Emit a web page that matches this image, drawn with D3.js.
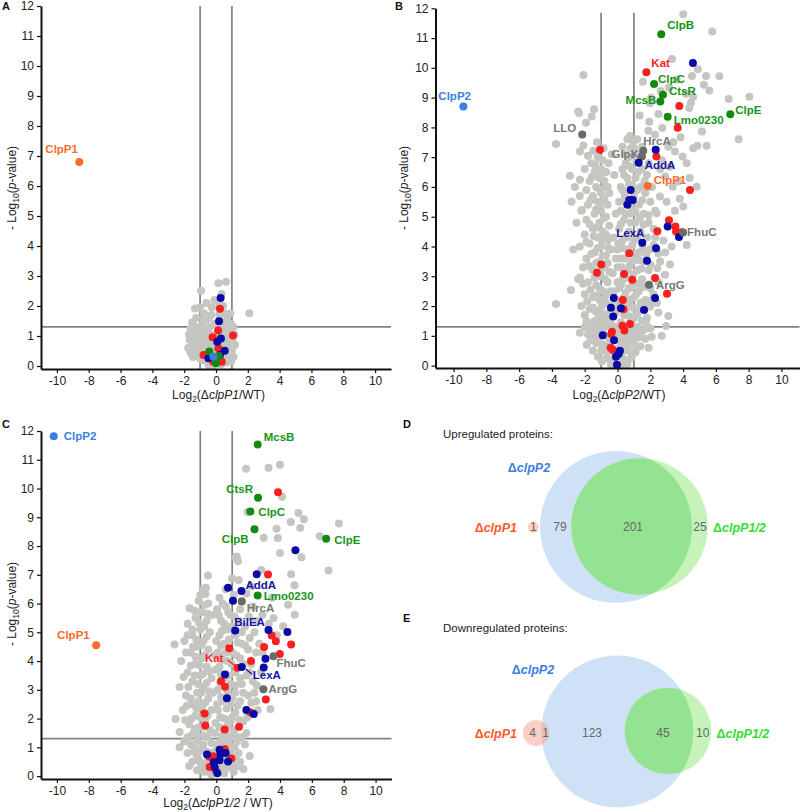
<!DOCTYPE html>
<html><head><meta charset="utf-8">
<script src="https://cdn.jsdelivr.net/npm/d3@7"></script>
<style>body{margin:0;background:#fff} svg{display:block;font-family:Arial,"Liberation Sans",sans-serif}</style>
</head><body><svg id="c" width="801" height="812"></svg>
<script>
// ---------- shared ----------
const xTicks = [-10,-8,-6,-4,-2,0,2,4,6,8,10];
const yTicks = [0,1,2,3,4,5,6,7,8,9,10,11,12];
const foldCut = 1;
const pCut = 1.30103;

// ---------- Panel A: ΔclpP1 / WT ----------
const grayA = [[-0.94,2.51],[0.15,2.76],[0.63,2.81],[-1.32,1.92],[2.09,1.76],[-1.0,1.95],[-0.75,1.75],[-1.25,1.6],[-1.5,1.45],[0.55,1.75],[0.7,1.55],[-0.6,1.55],[0.95,1.4],[1.1,1.3],[-1.6,1.25],[-1.2,1.3],[-0.85,1.35],[-0.4,1.3],[0.5,1.3],[0.8,1.2],[-1.7,1.05],[-1.35,1.05],[-1.05,1.1],[-0.7,1.1],[-0.35,1.05],[0.45,1.05],[0.75,1.0],[1.05,0.85],[-1.65,0.87],[-1.4,0.8],[-1.1,0.85],[-0.8,0.85],[-0.5,0.8],[0.6,0.8],[0.9,0.75],[-1.3,0.6],[-1.0,0.6],[-0.7,0.62],[-0.4,0.6],[0.4,0.6],[0.75,0.55],[1.0,0.5],[-1.2,0.4],[-0.95,0.38],[-0.6,0.4],[0.55,0.35],[0.85,0.3],[-0.85,0.2],[-0.55,0.15],[-0.3,0.1],[0.3,0.05],[0.6,0.12],[0.95,0.15],[-0.15,0.02],[0.1,0.3],[-0.2,0.7],[0.1,0.95],[-0.1,1.4],[0.3,1.5],[-0.3,1.7],[0.2,2.0],[-0.1,2.2],[0.35,2.4],[-0.6,2.1],[0.9,1.75],[-1.45,0.3],[1.15,1.05]];
const grayA2 = [[-1.5,1.15],[-0.9,1.2],[-0.55,1.2],[0.65,1.15],[0.95,1.15],[-1.25,0.95],[-0.9,1.0],[-0.55,0.95],[0.6,0.95],[0.85,0.9],[-1.5,0.7],[-1.15,0.7],[-0.85,0.7],[0.55,0.7],[0.85,0.6],[-1.1,0.5],[-0.8,0.5],[0.45,0.45],[0.75,0.4],[-1.0,0.25],[-0.65,0.3],[0.65,0.25],[1.1,0.3],[-0.45,0.0],[0.45,0.2],[-0.35,0.3],[-0.05,0.5],[0.3,0.8],[-0.45,1.6],[0.2,1.7],[0.45,2.0],[-0.25,1.95],[-0.8,1.55],[1.2,0.7],[-1.75,0.6],[-1.6,0.45]];
const redA = [[0.25,1.91],[0.13,1.18],[1.07,1.02],[-0.21,0.96],[0.15,0.59],[-0.79,0.37],[0.36,0.14],[-0.17,0.14]];
const blueA = [[0.29,2.27],[0.19,1.49],[0.31,0.92],[0.08,0.81],[0.55,0.51],[-0.48,0.26],[0.25,0.37]];
const greenA = [[-0.42,0.48],[0.0,0.09],[0.17,0.33]];
const labeledA = [["ClpP2",-0.17,0.32,"p2",false],["ClpP1",-8.59,6.8,"p1",true]];

// ---------- Panel B: ΔclpP2 / WT ----------
const grayB = [[4.01,11.8],[5.78,11.22],[3.32,10.3],[5.4,9.73],[4.54,9.73],[6.21,9.72],[1.55,9.53],[-2.08,9.76],[3.14,9.34],[5.27,9.43],[5.6,9.24],[4.18,9.13],[2.63,9.22],[4.62,9.03],[8.04,9.03],[6.78,8.95],[4.48,8.83],[1.98,8.81],[4.38,8.65],[-2.39,8.53],[-1.43,8.61],[-1.57,8.37],[-1.92,8.16],[1.94,8.19],[2.73,7.98],[1.88,7.89],[2.29,7.75],[3.85,7.67],[5.15,7.86],[7.39,7.6],[5.44,7.38],[4.87,7.38],[4.62,7.3],[-2.08,7.39],[-1.48,7.22],[0.76,7.71],[0.96,7.52],[3.1,7.35],[3.51,7.19],[3.97,7.02],[4.22,6.8],[-2.9,6.38],[-2.29,6.24],[3.2,6.68],[2.9,6.35],[3.71,6.18],[-3.75,7.44],[-2.35,8.48],[-2.29,7.19],[3.6,9.6],[2.05,9.0],[4.9,9.95],[1.35,8.4],[2.5,8.45],[3.4,7.5],
[-1.2,7.0],[-0.9,6.9],[-1.6,6.8],[-1.0,6.6],[-0.7,6.5],[-1.4,6.5],[-2.0,6.6],[-1.1,6.3],[-0.8,6.2],[-1.7,6.2],[-2.6,6.0],[-1.3,6.0],[-0.6,6.0],[-1.9,5.9],[-1.0,5.8],[-2.3,5.7],[-1.5,5.7],[-0.8,5.6],[-2.8,5.5],[-1.2,5.5],[-1.8,5.4],[-0.6,5.4],[-1.0,5.2],[-2.2,5.2],[-1.4,5.1],[-0.7,5.0],[-1.9,4.9],[-1.1,4.8],[-2.5,4.8],[-0.5,4.7],[-1.5,4.6],[-0.9,4.5],[-2.0,4.4],[-1.2,4.3],[-0.6,4.2],[-1.7,4.1],[-2.3,4.0],[-1.0,4.0],[-1.4,3.8],[-0.7,3.7],[-1.9,3.6],[-1.1,3.5],[-2.1,3.3],[-0.8,3.3],[-1.5,3.2],[-1.0,3.0],[-2.4,2.9],[-1.8,2.8],[-0.6,2.8],[-1.3,2.7],[-0.9,2.5],[-2.0,2.4],[-1.5,2.3],[-1.1,2.2],[-0.7,2.1],[-2.2,2.0],[-1.7,1.9],[-1.3,1.8],[-0.9,1.7],[-0.5,1.6],[-1.9,1.5],[-1.4,1.5],[-2.84,2.54],[-2.29,2.96],[-2.18,5.23],[-2.7,3.9],[-0.4,3.9],[-0.5,5.8],[-0.55,6.8],[-1.8,7.05],[-1.25,7.5],[-0.85,7.3],
[0.6,7.6],[1.0,7.3],[0.7,7.0],[1.3,7.1],[0.5,6.8],[0.9,6.6],[1.5,6.6],[0.4,6.4],[1.1,6.3],[1.8,6.4],[0.7,6.1],[1.4,6.0],[0.3,5.9],[1.0,5.7],[1.7,5.8],[0.5,5.5],[1.3,5.4],[2.0,5.5],[0.2,5.2],[0.8,5.1],[1.6,5.1],[0.4,4.9],[1.1,4.8],[1.9,4.8],[0.1,4.6],[0.7,4.5],[1.4,4.5],[2.2,4.6],[0.3,4.2],[1.0,4.2],[1.8,4.3],[0.0,3.9],[0.6,3.9],[1.3,3.8],[2.0,3.9],[0.2,3.6],[0.9,3.5],[1.6,3.5],[0.0,3.3],[0.6,3.2],[1.2,3.2],[1.9,3.2],[0.3,2.9],[0.9,2.9],[1.5,2.9],[0.1,2.6],[0.7,2.6],[1.3,2.5],[2.0,2.6],[0.4,2.3],[1.0,2.3],[1.7,2.2],[0.1,2.0],[0.7,2.0],[1.3,1.9],[0.4,1.7],[1.0,1.6],[1.8,1.6],[0.2,1.45],[0.8,1.45],[1.5,1.5],[-0.2,2.5],[-0.3,3.1],[-0.1,1.8],[-0.25,4.3],[2.3,5.2],[2.1,6.0],[1.2,7.6],
[2.49,3.77],[2.9,3.8],[2.43,3.27],[2.39,5.12],[4.01,5.34],[4.83,6.01],[3.37,6.01],[2.59,5.68],[4.22,4.05],[3.1,1.67],[2.96,1.33],[2.49,1.78],[1.98,1.98],[2.9,3.05],[2.09,0.97],[2.7,1.0],[2.6,6.6],[3.0,5.5],[3.5,5.2],[2.8,4.2],[3.3,4.0],[2.5,2.8],[2.2,2.4],[3.2,3.4],[2.7,6.9],[4.4,6.3],[3.8,5.6],[2.3,4.3],[2.6,3.5],[2.4,2.1],[-3.75,2.07],
[-2.0,1.3],[-1.6,1.2],[-1.2,1.25],[-0.8,1.3],[-0.3,1.2],[0.3,1.25],[0.7,1.2],[1.2,1.3],[1.6,1.2],[-1.88,0.7],[-1.5,1.0],[-1.1,1.0],[-0.6,0.95],[0.1,1.0],[0.5,0.95],[0.9,1.0],[1.3,0.95],[1.7,0.9],[-1.3,0.75],[-0.9,0.7],[-0.5,0.7],[0.2,0.75],[0.6,0.7],[1.0,0.75],[1.4,0.65],[-1.0,0.5],[-0.6,0.45],[0.3,0.45],[0.7,0.5],[1.1,0.45],[-0.7,0.25],[-0.3,0.2],[0.4,0.2],[0.8,0.25],[-0.4,0.05],[0.2,0.0],[0.6,0.05],[-1.5,0.5],[-1.8,1.05],[2.0,1.25],[1.9,0.6]];
const grayB2 = [[-1.35,6.75],[-0.95,6.45],[-1.55,6.35],[-0.75,6.0],[-1.15,5.95],[-1.65,5.55],[-0.95,5.45],[-1.3,5.25],[-0.85,4.95],[-1.7,4.75],[-1.25,4.65],[-0.7,4.4],[-1.45,4.35],[-0.95,4.2],[-1.9,4.15],[-1.2,3.95],[-0.55,3.95],[-1.6,3.75],[-0.9,3.7],[-1.3,3.45],[-0.6,3.45],[-1.75,3.35],[-1.05,3.2],[-0.5,3.15],[-1.4,2.95],[-0.75,2.9],[-2.1,2.75],[-1.1,2.6],[-0.45,2.5],[-1.65,2.55],[-1.3,2.35],[-0.75,2.35],[-1.85,2.15],[-0.95,2.0],[-0.4,2.0],[-1.5,1.95],[-1.1,1.85],[-0.65,1.75],[-2.0,1.7],[-1.2,1.55],[-0.75,1.5],[-1.65,1.35],[-0.4,1.4],[-1.05,1.4],[-2.3,1.1],[-1.35,1.1],[-0.85,1.05],[-0.2,1.0],[-1.65,0.85],[-1.15,0.85],[-0.35,0.85],[-0.75,0.55],[-1.2,0.3],[-0.95,0.15],
[0.8,7.3],[0.45,7.1],[1.15,6.85],[0.7,6.7],[0.3,6.6],[1.25,6.5],[0.6,6.3],[0.9,6.05],[0.2,6.0],[1.2,5.9],[0.45,5.7],[0.8,5.35],[1.5,5.55],[0.1,5.5],[1.1,5.15],[0.5,5.1],[1.35,4.95],[0.8,4.8],[0.2,4.75],[1.6,4.75],[0.55,4.3],[1.2,4.3],[0.9,4.05],[0.3,3.95],[1.55,3.95],[1.05,3.75],[0.45,3.6],[1.3,3.55],[0.75,3.35],[0.25,3.3],[1.45,3.25],[0.95,3.05],[0.5,2.95],[1.2,2.75],[0.25,2.75],[0.85,2.65],[1.6,2.65],[0.5,2.45],[1.15,2.4],[0.75,2.2],[0.3,2.15],[1.4,2.1],[0.95,1.95],[0.5,1.85],[1.2,1.7],[0.75,1.65],[0.15,1.2],[0.5,1.1],[1.0,1.15],[0.35,0.85],[0.75,0.85],[1.15,0.6],[0.5,0.55],[0.9,0.35],[0.2,0.3],[0.0,0.55],[-0.15,0.35],[1.4,1.1],[1.75,1.4],[1.8,2.0],[2.0,3.4],[2.1,2.2],[1.75,3.75],[2.2,4.05],[1.9,5.05],[1.65,6.2],[1.9,6.8],[1.5,7.35],[0.3,7.35],[-0.35,7.1],[-0.2,6.4],[-0.1,5.1],[0.05,4.1],[-0.1,3.6],[0.0,2.8],[-0.05,2.2],[-0.1,1.3],[0.1,0.85]];
const redB = [[3.77,8.72],[3.67,7.99],[-1.07,7.25],[2.37,7.02],[4.42,5.9],[3.14,4.88],[3.53,4.67],[3.57,4.5],[3.91,4.48],[2.43,4.51],[0.72,3.77],[-0.99,3.4],[-1.25,3.12],[0.4,3.08],[0.9,2.88],[2.29,2.94],[3.02,2.41],[0.32,2.2],[0.36,1.89],[0.3,1.34],[0.76,1.4],[0.42,1.18],[-0.34,1.14],[-0.38,1.06],[-0.42,0.6],[-0.3,0.53]];
const blueB = [[4.6,10.16],[2.33,7.25],[0.8,5.9],[0.72,5.56],[0.93,5.56],[0.6,5.4],[3.06,4.67],[3.75,4.32],[2.35,3.94],[1.8,3.52],[2.29,2.27],[-0.23,2.27],[-0.4,1.94],[0.21,1.93],[1.62,1.87],[-0.26,1.65],[-0.9,1.02],[-0.21,0.85],[0.15,0.5],[0.07,0.39],[-0.09,0.3],[-0.03,0.03]];
const greenB = [];
const labeledB = [["ClpB",2.67,11.13,"green",true],["Kat",1.76,9.85,"red",true],["ClpC",2.23,9.46,"green",true],["CtsR",2.77,9.1,"green",true],["McsB",2.61,8.87,"green",true],["Lmo0230",3.06,8.36,"green",true],["ClpE",6.88,8.44,"green",true],["LLO",-2.15,7.76,"dark",true],["HrcA",1.57,7.22,"dark",true],["GlpK",1.49,7.02,"dark",true],["AddA",1.29,6.81,"blue",true],["ClpP1",1.84,6.03,"p1",true],["ClpP2",-9.4,8.7,"p2",true],["LexA",1.51,4.13,"blue",true],["FhuC",4.0,4.47,"dark",true],["ArgG",1.92,2.72,"dark",true]];

// ---------- Panel C: ΔclpP1/2 / WT ----------
const grayC = [[1.87,10.69],[3.28,10.72],[4.0,10.83],[4.13,9.71],[1.96,9.18],[5.16,9.15],[5.5,8.93],[4.68,8.84],[7.7,8.78],[5.27,8.63],[3.78,8.6],[2.98,8.29],[3.86,8.28],[6.5,8.34],[5.35,7.61],[4.0,7.76],[1.2,7.6],[1.37,7.47],[1.28,7.64],[7.05,7.15],[2.83,7.17],[4.7,7.02],[-0.52,6.98],[0.99,6.87],[1.41,6.82],[4.91,6.64],[-0.67,6.33],[2.2,6.6],[3.5,6.2],[1.9,6.35],
[-0.8,6.5],[-1.1,6.1],[-0.5,6.0],[-1.67,5.84],[-0.9,5.7],[-1.3,5.5],[-0.6,5.4],[-1.8,5.3],[-1.0,5.1],[-0.4,5.0],[-1.5,4.9],[-0.8,4.7],[-2.0,4.7],[-1.2,4.5],[-0.5,4.4],[-2.62,4.58],[-1.6,4.3],[-0.9,4.1],[-2.2,4.0],[-1.3,3.9],[-0.6,3.8],[-1.8,3.6],[-1.0,3.5],[-0.3,3.4],[-1.5,3.3],[-2.3,3.1],[-0.8,3.1],[-1.2,2.9],[-1.9,2.8],[-0.5,2.7],[-1.5,2.5],[-0.9,2.4],[-2.1,2.3],[-0.3,2.3],[-1.3,2.1],[-2.55,1.99],[-0.7,1.9],[-1.7,1.8],[-1.1,1.7],[-0.4,1.6],[-2.3,1.53],[-1.5,1.45],[-0.8,1.4],[-0.1,1.5],[-0.2,2.9],[-0.1,4.2],[-0.25,5.6],
[0.2,6.2],[0.6,5.9],[0.9,5.6],[0.3,5.4],[1.4,5.4],[0.7,5.1],[1.8,5.2],[0.2,4.9],[1.2,4.9],[2.1,4.8],[0.5,4.6],[1.6,4.6],[0.1,4.3],[1.0,4.3],[2.0,4.4],[0.7,4.0],[1.5,4.1],[2.5,4.3],[0.2,3.8],[1.2,3.6],[1.9,3.5],[0.5,3.4],[0.9,3.2],[1.6,3.2],[2.3,3.3],[0.1,3.0],[1.2,2.9],[2.0,2.8],[0.4,2.6],[0.9,2.5],[1.5,2.6],[0.1,2.3],[1.2,2.2],[2.6,2.3],[0.5,2.0],[1.7,1.9],[0.2,1.7],[0.9,1.9],[1.9,1.5],[0.6,1.5],[1.2,1.4],[2.4,2.9],[2.8,3.6],[3.4,2.33],[2.5,5.4],[2.9,5.6],[3.6,5.5],[4.51,5.96],[4.93,5.61],[4.2,5.21],[3.8,4.9],[2.3,5.9],[1.5,5.8],[1.1,6.3],[2.7,4.6],
[-2.0,1.2],[-1.6,1.1],[-1.2,1.2],[-0.8,1.1],[-0.3,1.15],[0.3,1.2],[0.8,1.1],[1.3,1.2],[1.8,1.1],[-1.8,0.8],[-1.4,0.85],[-1.0,0.9],[-0.6,0.85],[0.0,0.9],[0.9,0.85],[1.4,0.8],[-1.5,0.5],[-1.1,0.55],[-0.7,0.45],[0.4,0.35],[1.0,0.4],[1.5,0.5],[-1.2,0.2],[-0.8,0.15],[-0.3,0.05],[0.5,0.1],[1.1,0.15],[-1.7,0.35],[2.1,0.7],[1.7,0.25]];
const grayC2 = [[-0.65,6.55],[-1.0,6.3],[-0.75,5.95],[-1.35,5.75],[-0.55,5.65],[-1.1,5.35],[-0.75,5.2],[-1.5,5.1],[-0.6,4.85],[-1.25,4.75],[-1.8,4.9],[-0.95,4.55],[-1.45,4.5],[-0.7,4.2],[-1.3,4.15],[-1.9,4.3],[-1.05,3.85],[-1.6,3.85],[-0.45,3.65],[-0.85,3.55],[-1.35,3.5],[-2.05,3.45],[-0.6,3.25],[-1.15,3.2],[-1.75,3.1],[-0.95,2.9],[-0.45,2.95],[-1.6,2.7],[-1.1,2.6],[-0.7,2.55],[-1.85,2.45],[-1.25,2.35],[-0.55,2.1],[-1.0,2.05],[-1.55,2.0],[-1.95,1.95],[-0.85,1.7],[-1.35,1.65],[-0.55,1.35],[-1.2,1.4],[-1.8,1.35],[-2.3,1.0],[-1.4,1.0],[-0.85,0.9],[-0.35,0.8],[-1.2,0.7],[-0.5,0.55],[-0.95,0.35],[-0.55,0.15],[-0.2,0.45],
[0.4,6.0],[0.75,5.7],[0.15,5.6],[1.15,5.55],[0.5,5.3],[0.95,5.2],[1.6,5.0],[0.35,5.05],[0.8,4.75],[1.35,4.65],[0.3,4.55],[1.8,4.55],[0.6,4.3],[1.25,4.2],[0.4,4.05],[1.7,3.9],[0.95,3.9],[0.3,3.55],[0.8,3.5],[1.5,3.4],[2.1,3.6],[0.25,3.25],[1.2,3.15],[0.7,2.95],[1.7,2.9],[0.3,2.75],[1.0,2.7],[1.35,2.45],[0.65,2.35],[0.25,2.05],[1.0,2.05],[1.45,1.95],[0.7,1.75],[1.1,1.6],[0.35,1.4],[0.9,1.35],[1.6,1.35],[0.55,1.2],[1.15,1.0],[0.6,0.75],[1.2,0.65],[0.3,0.6],[0.85,0.3],[0.1,0.2],[1.4,0.35],[-0.05,0.65],[0.1,1.1],[-0.05,1.85],[0.05,2.5],[-0.05,3.7],[0.0,4.7],[0.05,5.8],[0.6,6.5],[1.6,6.1],[2.05,5.55],[2.4,5.0],[2.2,3.9],[2.55,3.15],[2.2,2.55],[1.95,2.05],[2.5,2.6],[2.9,4.3],[3.3,5.3]];
const redC = [[3.88,9.87],[3.25,7.01],[3.48,4.89],[3.74,4.69],[4.7,4.58],[3.0,4.49],[0.82,4.45],[3.99,4.25],[2.18,4.0],[0.3,3.3],[0.55,3.11],[3.11,2.66],[2.14,2.22],[-0.73,2.18],[-0.69,1.76],[0.53,1.62],[1.43,1.72],[0.53,0.94],[-0.42,0.67],[-0.2,0.69],[-0.42,0.32],[-0.04,0.21],[0.95,0.61]];
const blueC = [[4.97,7.85],[2.54,7.02],[0.74,6.55],[1.05,6.1],[3.28,5.08],[4.47,5.01],[3.09,4.08],[2.98,3.78],[0.55,3.53],[0.67,2.71],[1.89,2.3],[2.35,2.16],[0.21,0.92],[0.59,0.8],[0.26,0.76],[-0.58,0.75],[-0.16,0.48],[0.21,0.55],[0.74,0.51],[-0.1,0.32],[0.07,0.1]];
const greenC = [];
const labeledC = [["McsB",2.6,11.53,"green",true],["CtsR",2.62,9.68,"green",true],["ClpC",2.14,9.2,"green",true],["ClpB",2.4,8.58,"green",true],["ClpE",6.9,8.25,"green",true],["AddA",1.58,6.44,"blue",true],["Lmo0230",2.6,6.28,"green",true],["HrcA",1.6,6.07,"dark",true],["BilEA",1.19,5.06,"blue",true],["FhuC",3.59,4.17,"dark",true],["Kat",1.33,3.77,"red",true],["LexA",1.6,3.79,"blue",true],["ArgG",2.96,3.02,"dark",true],["ClpP1",-7.54,4.55,"p1",true],["ClpP2",-10.2,11.82,"p2",true]];

// ---------- Venn data ----------
const vennSetNames = ["ΔclpP1","ΔclpP2","ΔclpP1/2"];
const upSetSizes = [1, 280, 226];
const upRegionCounts = [1, 79, 201, 25];      // P1 only, P2 only, P2∩P1/2, P1/2 only
const downSetSizes = [5, 169, 55];
const downRegionCounts = [4, 1, 123, 45, 10]; // P1 only, P1∩P2, P2 only, P2∩P1/2, P1/2 only

// ---------- styles ----------
const pointColor = {gray:"#c5c5c1", red:"#fb1f1f", blue:"#0a0aa6", green:"#108a10", dark:"#666d66", p1:"#ff6a2a", p2:"#3c80df"};
const labelColor = {red:"#ff2020", blue:"#1515a0", green:"#169616", dark:"#767a76", p1:"#ff6a2a", p2:"#3c80df"};

const svg = d3.select("#c");

function drawVolcano(cfg){
  const g = svg.append("g");
  const x = d3.scaleLinear().domain(cfg.xd).range(cfg.xr);
  const y = d3.scaleLinear().domain(cfg.yd).range(cfg.yr);
  const lc = "#7b867b";
  [-foldCut, foldCut].forEach(v=>{
    g.append("line").attr("x1",x(v)).attr("x2",x(v)).attr("y1",y(cfg.vTop)).attr("y2",y(cfg.yd[0]))
     .attr("stroke",lc).attr("stroke-width",1.7);
  });
  g.append("line").attr("x1",x(cfg.xd[0])).attr("x2",x(cfg.xd[1])).attr("y1",y(pCut)).attr("y2",y(pCut))
     .attr("stroke",lc).attr("stroke-width",1.7);
  const r = 4;
  const layer = (arr, col) => g.append("g").selectAll("circle").data(arr).join("circle")
      .attr("cx",d=>x(d[0])).attr("cy",d=>y(d[1])).attr("r",r).attr("fill",col);
  layer(cfg.gray, pointColor.gray);
  layer(cfg.red, pointColor.red);
  layer(cfg.blue, pointColor.blue);
  layer(cfg.green, pointColor.green);
  layer(cfg.labeled.map(d=>[d[1],d[2],d[3]]), null).attr("fill",d=>pointColor[d[2]]);
  cfg.labeled.filter(d=>d[4]).forEach(d=>{
    const o = cfg.offsets[d[0]];
    const px = x(d[1]), py = y(d[2]);
    if(o.leader){
      g.append("line").attr("x1",px+o.leader[0]).attr("y1",py+o.leader[1]).attr("x2",px+o.leader[2]).attr("y2",py+o.leader[3])
       .attr("stroke",labelColor[d[3]]).attr("stroke-width",1.3);
    }
    g.append("text").attr("x",px+o.dx).attr("y",py+o.dy).attr("dy","0.36em")
      .attr("text-anchor",o.a||"start").attr("font-size",11.5).attr("font-weight","bold")
      .attr("fill",labelColor[d[3]]).text(d[0]);
  });
  const ax = g.append("g").attr("transform",`translate(0,${y(cfg.yd[0])})`)
    .call(d3.axisBottom(x).tickValues(xTicks).tickSize(4).tickSizeOuter(0).tickPadding(3).tickFormat(d=>String(d)));
  const ay = g.append("g").attr("transform",`translate(${x(cfg.xd[0])},0)`)
    .call(d3.axisLeft(y).tickValues(yTicks).tickSize(4).tickSizeOuter(0).tickPadding(3));
  [ax,ay].forEach(a=>{
    a.select(".domain").attr("stroke","#111").attr("stroke-width",2);
    a.selectAll(".tick line").attr("stroke","#111").attr("stroke-width",1.2);
    a.selectAll(".tick text").attr("font-size",12).attr("fill","#222").attr("font-family","Arial, 'Liberation Sans', sans-serif");
  });
  const xt = g.append("text").attr("x",cfg.xTitle[0]).attr("y",cfg.xTitle[1]).attr("text-anchor","middle")
     .attr("font-size",12).attr("fill","#222");
  xt.append("tspan").text("Log");
  xt.append("tspan").attr("font-size",8.5).attr("dy",3).text("2");
  xt.append("tspan").attr("dy",-3).text("(Δ");
  xt.append("tspan").attr("font-style","italic").text(cfg.strain);
  xt.append("tspan").text(cfg.tail);
  const yt = g.append("text").attr("transform",`translate(${cfg.yTitle[0]},${cfg.yTitle[1]}) rotate(-90)`)
     .attr("text-anchor","middle").attr("font-size",12).attr("fill","#222");
  yt.append("tspan").text("- Log");
  yt.append("tspan").attr("font-size",8.5).attr("dy",3).text("10");
  yt.append("tspan").attr("dy",-3).text("(");
  yt.append("tspan").attr("font-style","italic").text("p");
  yt.append("tspan").text("-value)");
  svg.append("text").attr("x",cfg.letter[1]).attr("y",cfg.letter[2]).attr("font-size",11).attr("font-weight","bold").attr("fill","#111").text(cfg.letter[0]);
}

drawVolcano({
  xd:[-11,11], xr:[41,391], yd:[-0.1,12], yr:[369,6], vTop:12,
  gray:grayA.concat(grayA2), red:redA, blue:blueA, green:greenA, labeled:labeledA,
  offsets:{ClpP1:{dx:-34,dy:-13}},
  strain:"clpP1", tail:"/WT)", xTitle:[218.5,399], yTitle:[16,188], letter:["A",2,10]
});
drawVolcano({
  xd:[-11.1,11.1], xr:[435.5,799.5], yd:[-0.08,12], yr:[368,8.3], vTop:11.85,
  gray:grayB.concat(grayB2), red:redB, blue:blueB, green:greenB, labeled:labeledB,
  offsets:{ClpB:{dx:6,dy:-9},Kat:{dx:5,dy:-9},ClpC:{dx:4,dy:-5},CtsR:{dx:6,dy:-4},McsB:{dx:-4,dy:-2,a:"end"},
    Lmo0230:{dx:6,dy:3},ClpE:{dx:5,dy:-4},LLO:{dx:-6,dy:-7,a:"end"},HrcA:{dx:0,dy:-10},GlpK:{dx:-3,dy:-3,a:"end"},
    AddA:{dx:6,dy:2},ClpP1:{dx:6,dy:-6},ClpP2:{dx:-25,dy:-11},LexA:{dx:-26,dy:-10},FhuC:{dx:4,dy:-1},ArgG:{dx:7,dy:0}},
  strain:"clpP2", tail:"/WT)", xTitle:[619,399], yTitle:[408,188], letter:["B",395,10]
});
drawVolcano({
  xd:[-11,11], xr:[41,391.5], yd:[-0.1,12], yr:[779,431], vTop:12,
  gray:grayC.concat(grayC2), red:redC, blue:blueC, green:greenC, labeled:labeledC,
  offsets:{McsB:{dx:6,dy:-8},CtsR:{dx:-5,dy:-9,a:"end"},ClpC:{dx:8,dy:0},ClpB:{dx:-6,dy:9,a:"end"},ClpE:{dx:8,dy:1},
    AddA:{dx:4,dy:-6},Lmo0230:{dx:6,dy:0},HrcA:{dx:5,dy:6},BilEA:{dx:-1,dy:-9},FhuC:{dx:3,dy:7},
    Kat:{dx:-14,dy:-10,a:"end",leader:[-10,-8,0,0]},LexA:{dx:11,dy:8,leader:[4,2,10,7]},ArgG:{dx:5,dy:0},
    ClpP1:{dx:-39,dy:-10},ClpP2:{dx:10,dy:0}},
  strain:"clpP1/2", tail:" / WT)", xTitle:[218,807], yTitle:[16,604], letter:["C",2,428]
});

// ---------- Venn diagrams ----------
function drawVenn(cfg){
  const g = svg.append("g");
  const rS = d3.scaleSqrt().domain([0, d3.max(cfg.sizes)]).range([0, 76]);
  const [cP1, cP2, cP12] = cfg.centers;
  const rP1 = Math.max(rS(cfg.sizes[0]),5.5), rP2 = rS(cfg.sizes[1]), rP12 = rS(cfg.sizes[2]);
  const id = "clip"+cfg.letter[0];
  g.append("clipPath").attr("id",id).append("circle").attr("cx",cP2[0]).attr("cy",cP2[1]).attr("r",rP2);
  g.append("circle").attr("cx",cP2[0]).attr("cy",cP2[1]).attr("r",rP2).attr("fill","#cfe1f6");
  g.append("circle").attr("cx",cP12[0]).attr("cy",cP12[1]).attr("r",rP12).attr("fill","#c6f3ba");
  g.append("circle").attr("cx",cP12[0]).attr("cy",cP12[1]).attr("r",rP12).attr("fill","#93e393").attr("clip-path",`url(#${id})`);
  g.append("circle").attr("cx",cP1[0]).attr("cy",cP1[1]).attr("r",rP1).attr("fill","#f4a898").attr("fill-opacity",0.55);
  g.selectAll("text.n").data(cfg.counts).join("text").attr("class","n")
    .attr("x",(d,i)=>cfg.countX[i]).attr("y",cfg.countY).attr("dy","0.36em").attr("text-anchor","middle")
    .attr("font-size",12).attr("fill","#666").text(d=>d);
  const nameCols = ["#ff5a2a","#3c7fdf","#33dd33"];
  vennSetNames.forEach((nm,i)=>{
    const p = cfg.namePos[i];
    const t = g.append("text").attr("x",p[0]).attr("y",p[1]).attr("dy","0.36em").attr("text-anchor",p[2])
      .attr("font-size",12.5).attr("font-weight","bold").attr("font-style","italic").attr("fill",nameCols[i]);
    t.append("tspan").attr("font-style","normal").text("Δ");
    t.append("tspan").text(nm.slice(1));
  });
  g.append("text").attr("x",443).attr("y",cfg.titleY).attr("dy","0.36em").attr("font-size",11.5).attr("fill","#222").text(cfg.title);
  svg.append("text").attr("x",cfg.letter[1]).attr("y",cfg.letter[2]).attr("font-size",11).attr("font-weight","bold").attr("fill","#111").text(cfg.letter[0]);
}
drawVenn({
  sizes:upSetSizes, counts:upRegionCounts, centers:[[533.3,527.3],[616,527],[639.5,526.5]],
  countX:[533.3,560,633,700], countY:527,
  namePos:[[517,527,"end"],[529,467,"middle"],[713,527,"start"]],
  title:"Upregulated proteins:", titleY:434, letter:["D",403,428]
});
drawVenn({
  sizes:downSetSizes, counts:downRegionCounts, centers:[[536,733],[617.3,731.5],[668,731]],
  countX:[532.7,545.7,592,663,702.7], countY:733,
  namePos:[[517,733,"end"],[533,669,"middle"],[716.5,733,"start"]],
  title:"Downregulated proteins:", titleY:628, letter:["E",403,622]
});
</script></body></html>
